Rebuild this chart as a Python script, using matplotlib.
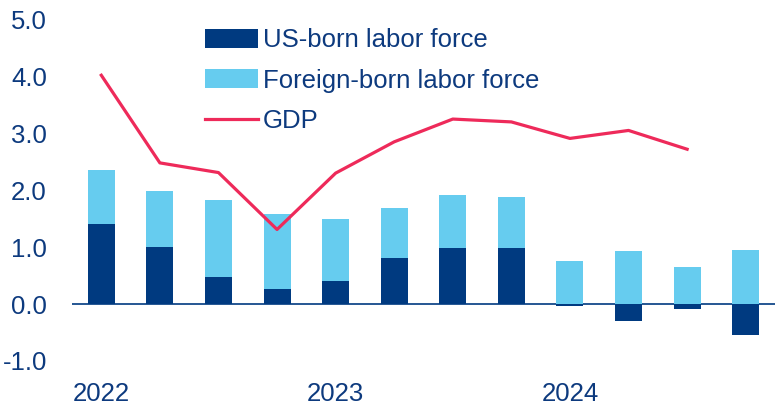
import matplotlib
matplotlib.use("Agg")
import matplotlib.pyplot as plt
import numpy as np

quarters = ["2022Q1", "2022Q2", "2022Q3", "2022Q4", "2023Q1", "2023Q2", "2023Q3", "2023Q4",
            "2024Q1", "2024Q2", "2024Q3", "2024Q4"]
us_born = [1.40, 1.01, 0.47, 0.26, 0.40, 0.81, 0.99, 0.98, -0.04, -0.30, -0.08, -0.55]
foreign_born = [0.96, 0.98, 1.36, 1.33, 1.09, 0.88, 0.93, 0.90, 0.76, 0.94, 0.65, 0.95]
gdp = [4.02, 2.48, 2.31, 1.31, 2.30, 2.85, 3.25, 3.20, 2.91, 3.05, 2.72]
year_labels = ["2022", "2023", "2024"]
year_pos = [0, 4, 8]
yticks = [-1.0, 0.0, 1.0, 2.0, 3.0, 4.0, 5.0]

navy = "#003A80"
light = "#66CCEF"
pink = "#EE2A5A"
txt = "#0D3A7E"

plt.rcParams['font.family'] = ['Liberation Sans', 'DejaVu Sans']

fig = plt.figure(figsize=(7.75, 4.09), dpi=100)
ax = fig.add_axes([72/775, 31/409, 703/775, 375.6/409])

x = np.arange(len(quarters))
us = np.array(us_born)
fb = np.array(foreign_born)
fb_bottom = np.where(us > 0, us, 0)
w = 0.46
b1 = ax.bar(x, us, width=w, color=navy, label="US-born labor force", zorder=2)
b2 = ax.bar(x, fb, bottom=fb_bottom, width=w, color=light, label="Foreign-born labor force", zorder=2)
l1, = ax.plot(np.arange(len(gdp)), gdp, color=pink, lw=2.3, label="GDP", zorder=3)
ax.axhline(0, color=navy, lw=1.2, zorder=1)

ax.set_xlim(-0.5, 11.5)
ax.set_ylim(-1.3, 5.3)
ax.set_yticks(yticks)
ax.set_yticklabels([f"{v:.1f}" for v in yticks])
ax.set_xticks(year_pos)
ax.set_xticklabels(year_labels)
ax.tick_params(axis='both', length=0, labelsize=18.5, labelcolor=txt)
ax.tick_params(axis='y', pad=18)
ax.tick_params(axis='x', pad=3)
for s in ax.spines.values():
    s.set_visible(False)

leg = ax.legend(handles=[b1, b2, l1], loc="upper left", bbox_to_anchor=(0.175, 0.958), frameon=False,
                fontsize=18.5, handlelength=2.05, handleheight=0.75, handletextpad=0.2,
                labelspacing=0.63, borderaxespad=0)
for t in leg.get_texts():
    t.set_color(txt)

fig.savefig("out.png", dpi=100)
